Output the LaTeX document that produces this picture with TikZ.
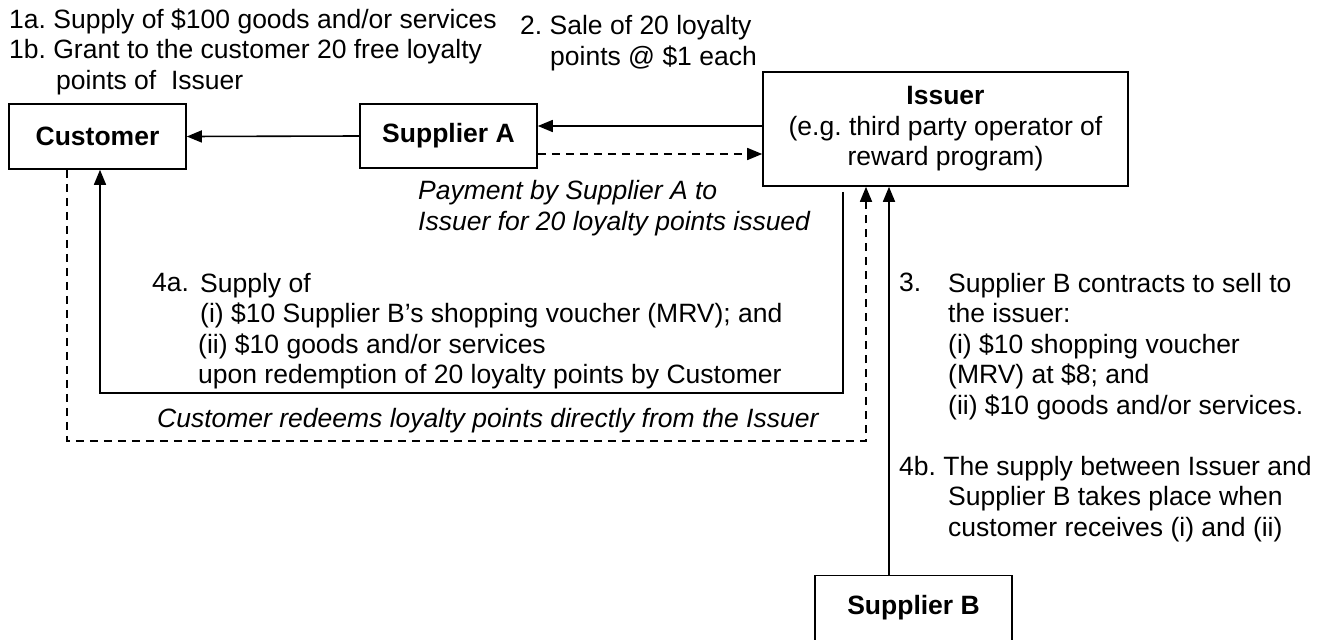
\documentclass[tikz,border=0pt]{standalone}
\usepackage{fontspec}
\setmainfont{Liberation Sans}
\usetikzlibrary{arrows.meta}
\frenchspacing
\newcommand{\diagfont}{\fontsize{26.5}{30.5}\selectfont}

\begin{document}
\begin{tikzpicture}[x=1pt, y=-1pt,
       box/.style = {draw, line width=1.6pt, inner sep=0pt,
                     font=\diagfont\bfseries},
      conn/.style = {line width=1.6pt, -{Triangle[length=15pt,width=12pt]}},
  dashconn/.style = {conn, dash pattern=on 8pt off 6pt},
       lbl/.style = {anchor=north west, inner sep=0pt, align=left,
                     font=\diagfont},
      note/.style = {lbl, font=\diagfont\itshape}
                    ]
\useasboundingbox (0,0) rectangle (1331,640);
\clip (0,0) rectangle (1331,640);
% parties
    \node[box, minimum width=177pt, minimum height=65pt] (cust) at (97.5,136.5) {Customer};
    \node[box, minimum width=177pt, minimum height=64pt] (supA) at (448.5,136) {Supplier A};
    \node[box, minimum width=365pt, minimum height=114pt, align=center] (issuer) at (945.5,129)
        {Issuer\\\mdseries(e.g. third party operator of\\\mdseries reward program)};
    \node[box, minimum width=197pt, minimum height=65pt] (supB) at (913.5,608) {Supplier B};
% flows between the parties
\coordinate (sale)     at (0,126);
\coordinate (pay)      at (0,154);
\coordinate (redeemL)  at (67,441);
\coordinate (redeemR)  at (866,441);
\coordinate (supplyR)  at (843,393);
\coordinate (supplyL)  at (100,393);
\coordinate (contract) at (889,0);
    \draw[conn] (supA.west) -- (cust.east);
    \draw[conn] (issuer.west |- sale) -- (supA.east |- sale);
    \draw[dashconn] (supA.east |- pay) -- (issuer.west |- pay);
    \draw[conn] ([yshift=-5pt]issuer.south -| supplyR) -- (supplyR) -- (supplyL) -- (cust.south -| supplyL);
    \draw[dashconn] (cust.south -| redeemL) -- (redeemL) -- (redeemR) -- (issuer.south -| redeemR);
    \draw[conn] (supB.north -| contract) -- (issuer.south -| contract);
% texts
    \node[lbl] (step1) at (9,8.5) {1a. Supply of \$100 goods and/or services\\
        1b. Grant to the customer 20 free loyalty\\\hspace*{47pt}points of\ \ Issuer};
    \node[lbl] (step2) at (520,15.5) {2. Sale of 20 loyalty\\\hspace*{30pt}points @ \$1 each};
    \node[note] (payment) at (418,180.5) {Payment by Supplier A to\\Issuer for 20 loyalty points issued};
    \node[lbl] (step4a) at (152,272.7) {4a.};
    \node[lbl] (supply4a) at (198,272.7) {\hspace*{2pt}Supply of\\\hspace*{2pt}(i) \$10 Supplier B’s shopping voucher (MRV); and\\
        (ii) \$10 goods and/or services\\upon redemption of 20 loyalty points by Customer};
    \node[note] (redeem) at (157,407.7) {Customer redeems loyalty points directly from the Issuer};
    \node[lbl] (step3) at (899,272.7) {3.};
    \node[lbl] (contract3) at (948,272.7) {Supplier B contracts to sell to\\the issuer:\\(i) \$10 shopping voucher\\
        (MRV) at \$8; and\\(ii) \$10 goods and/or services.};
    \node[lbl] (step4b) at (899,455.7) {4b. The supply between Issuer and\\\hspace*{49pt}Supplier B takes place when\\
        \hspace*{49pt}customer receives (i) and (ii)};
\end{tikzpicture}
\end{document}
